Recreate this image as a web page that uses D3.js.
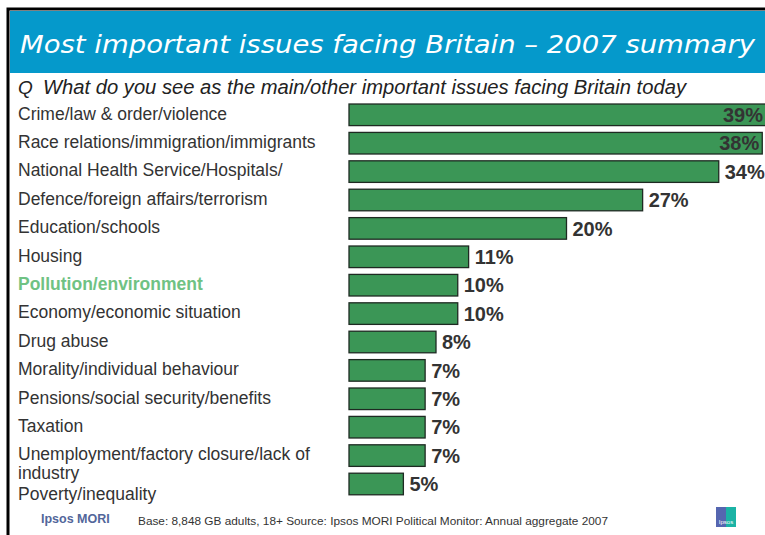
<!DOCTYPE html>
<html>
<head>
<meta charset="utf-8">
<script src="https://cdn.jsdelivr.net/npm/d3@7"></script>
<style>
  html, body { margin: 0; padding: 0; background: #fff; }
  svg { display: block; font-family: "Liberation Sans", Arial, sans-serif; }
</style>
</head>
<body>
<svg id="chart" width="765" height="535"></svg>
<script>
// issues, top to bottom
const issues = [
    'Crime/law & order/violence',
    'Race relations/immigration/immigrants',
    'National Health Service/Hospitals/',
    'Defence/foreign affairs/terrorism',
    'Education/schools',
    'Housing',
    'Pollution/environment',
    'Economy/economic situation',
    'Drug abuse',
    'Morality/individual behaviour',
    'Pensions/social security/benefits',
    'Taxation',
    'Unemployment/factory closure/lack of|industry',
    'Poverty/inequality'
];
// percent mentioning
const shares = [39, 38, 34, 27, 20, 11, 10, 10, 8, 7, 7, 7, 7, 5];
const highlighted = ['Pollution/environment'];

const title = 'Most important issues facing Britain \u2013 2007 summary';
const question = 'What do you see as the main/other important issues facing Britain today';
const footnote = 'Base: 8,848 GB adults, 18+  Source: Ipsos MORI Political Monitor: Annual aggregate 2007';

const W = 765;
const svg = d3.select('#chart');

// frame + header
svg.append('rect')
    .attr('x', 8).attr('y', 9)
    .attr('width', W).attr('height', 535)
    .attr('fill', 'none')
    .attr('stroke', '#000')
    .attr('stroke-width', 3);

svg.append('rect')
    .attr('x', 10).attr('y', 11)
    .attr('width', W - 10).attr('height', 62)
    .attr('fill', '#0599cb');

svg.append('text')
    .attr('x', 20).attr('y', 53)
    .attr('fill', '#fff')
    .attr('textLength', 735)
    .attr('lengthAdjust', 'spacingAndGlyphs')
    .style('font-family', '"DejaVu Sans", sans-serif')
    .style('font-size', '25px')
    .style('font-weight', 300)
    .style('font-style', 'italic')
    .text(title);

svg.append('text')
    .attr('x', 18).attr('y', 94)
    .attr('fill', '#222')
    .style('font-size', '19px')
    .style('font-style', 'italic')
    .text('Q');

svg.append('text')
    .attr('x', 43).attr('y', 94)
    .attr('fill', '#222')
    .attr('textLength', 643)
    .attr('lengthAdjust', 'spacingAndGlyphs')
    .style('font-size', '19.5px')
    .style('font-style', 'italic')
    .text(question);

// scales
const x = d3.scaleLinear()
    .domain([0, 40])
    .range([349, 349 + 435]);

const y = d3.scaleBand()
    .domain(issues)
    .range([97.2, 501.6])
    .padding(0.24);

const rows = issues.map((name, i) => ({ name, value: shares[i] }));

// bars
svg.append('g')
    .selectAll('rect')
    .data(rows)
    .enter()
    .append('rect')
    .attr('x', x(0))
    .attr('y', (d) => y(d.name))
    .attr('width', (d) => x(d.value) - x(0))
    .attr('height', y.bandwidth())
    .attr('fill', '#3b9656')
    .attr('stroke', '#1e2a22')
    .attr('stroke-width', 1.3);

// value labels
svg.append('g')
    .selectAll('text')
    .data(rows)
    .enter()
    .append('text')
    .attr('y', (d) => y(d.name) + y.bandwidth() / 2)
    .attr('dy', '0.36em')
    .attr('fill', '#333')
    .style('font-size', '20px')
    .style('font-weight', 'bold')
    .each(function (d) {
        const end = x(d.value);
        const t = d3.select(this);
        if (end + 6 + 40 > W + 10) {
            t.attr('x', Math.min(end - 3, W - 2)).attr('text-anchor', 'end');
        } else {
            t.attr('x', end + 6);
        }
    })
    .text((d) => d.value + '%');

// category labels, flowing down when one wraps
const lineGap = 18.5;
let prevBottom = -Infinity;
const labels = svg.append('g');
rows.forEach((d) => {
    const lines = d.name.split('|');
    const cy = Math.max(y(d.name) + y.bandwidth() / 2 - 1.5, prevBottom + 21);
    const hi = highlighted.includes(d.name.replace('|', ' '));
    lines.forEach((line, j) => {
        labels.append('text')
            .attr('x', 18)
            .attr('y', cy + j * lineGap)
            .attr('dy', '0.36em')
            .attr('fill', hi ? '#6fc283' : '#333')
            .style('font-size', '17.5px')
            .style('font-weight', hi ? 'bold' : 'normal')
            .text(line);
    });
    prevBottom = cy + (lines.length - 1) * lineGap;
});

// footer
svg.append('text')
    .attr('x', 41).attr('y', 523)
    .attr('fill', '#52669a')
    .style('font-size', '12.5px')
    .style('font-weight', 'bold')
    .text('Ipsos MORI');

svg.append('text')
    .attr('x', 138).attr('y', 525)
    .attr('fill', '#333')
    .attr('textLength', 470)
    .attr('lengthAdjust', 'spacingAndGlyphs')
    .style('font-size', '11px')
    .text(footnote);

// small logo
const logo = svg.append('g').attr('transform', 'translate(716,507)');
logo.append('rect').attr('width', 20).attr('height', 20).attr('fill', '#5566b0');
logo.append('rect').attr('x', 10).attr('width', 10).attr('height', 20).attr('fill', '#1bb3a5');
logo.append('text')
    .attr('x', 10).attr('y', 17)
    .attr('text-anchor', 'middle')
    .attr('fill', '#fff')
    .style('font-size', '6px')
    .text('Ipsos');
</script>
</body>
</html>
